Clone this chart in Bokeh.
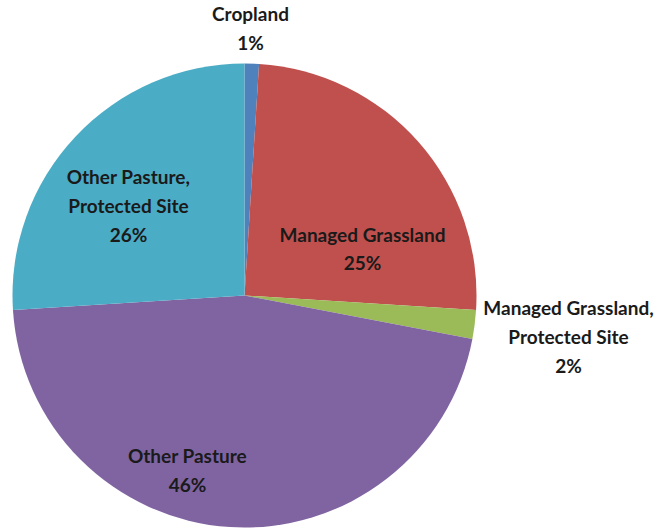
import math
from bokeh.plotting import figure
from bokeh.models import ColumnDataSource, Range1d
from bokeh.core.properties import value
from bokeh.embed import file_html
from bokeh.resources import INLINE

categories = ["Cropland", "Managed Grassland", "Managed Grassland,\nProtected Site",
              "Other Pasture", "Other Pasture,\nProtected Site"]
percent = [1, 25, 2, 46, 26]
colors = ["#4f81bd", "#c0504d", "#9bbb59", "#8064a2", "#4bacc6"]

W, H = 666, 531
cx, cy, R = 244, 236, 232
# label block centres relative to pie centre (pixels)
label_offsets = [(6, 267.5), (118, 47), (324, -41), (-57, -174.5), (-116, 90)]

total = float(sum(percent))
starts, ends = [], []
acc = 0.0
for v in percent:
    a0 = math.pi / 2 - 2 * math.pi * acc / total
    acc += v
    a1 = math.pi / 2 - 2 * math.pi * acc / total
    starts.append(a0)
    ends.append(a1)

src = ColumnDataSource(dict(x=[cx] * len(percent), y=[cy] * len(percent),
                            start=starts, end=ends, color=colors))

p = figure(width=W, height=H, x_range=Range1d(0, W), y_range=Range1d(0, H),
           output_backend="svg", toolbar_location=None, min_border=0)
p.axis.visible = False
p.grid.visible = False
p.outline_line_color = None
p.background_fill_color = "white"

p.wedge(x="x", y="y", radius=R, start_angle="start", end_angle="end",
        direction="clock", fill_color="color", line_color=None, source=src)

texts = [f"{c}\n{v}%" for c, v in zip(categories, percent)]
lsrc = ColumnDataSource(dict(x=[cx + o[0] for o in label_offsets],
                             y=[cy + o[1] for o in label_offsets],
                             t=texts))
p.text(x="x", y="y", text="t", source=lsrc, text_align="center",
       text_baseline="middle", text_font=value("Lato"), text_font_style="bold",
       text_font_size="19px", text_color="#1a1a1a", text_line_height=1.25)

open("out.html", "w").write(file_html(p, INLINE))
